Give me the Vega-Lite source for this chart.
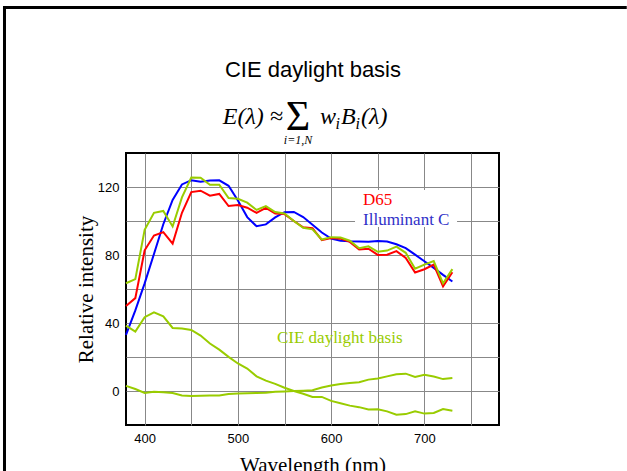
{
  "$schema": "https://vega.github.io/schema/vega-lite/v6.json",
  "width": 373,
  "height": 272,
  "autosize": "none",
  "padding": {"left": 126, "top": 153, "right": 128, "bottom": 46},
  "background": "white",
  "config": {
    "view": {"stroke": "#000", "strokeWidth": 2},
    "axis": {
      "grid": true, "gridColor": "#888", "gridWidth": 1, "gridOpacity": 1,
      "domain": false, "ticks": false, "tickSize": 0,
      "labelFont": "Liberation Sans", "labelFontSize": 13, "labelColor": "#000",
      "labelOverlap": false, "labelFlush": false,
      "titleFont": "Liberation Serif", "titleFontSize": 21, "titleFontWeight": "normal", "titleColor": "#000"
    }
  },
  "layer": [
    {
      "data": {"values": [{}]},
      "mark": {"type": "rect", "fill": "white", "clip": false},
      "encoding": {
        "x": {"datum": 625.6, "type": "quantitative", "scale": {"domain": [380, 780], "nice": false, "zero": false}},
        "x2": {"datum": 735},
        "y": {"datum": 118.2, "type": "quantitative", "scale": {"domain": [-20, 140], "nice": false, "zero": false}},
        "y2": {"datum": 96.5}
      }
    },
    {
      "data": {"values": [
        {"wl": 380, "C": 33.0, "D65": 49.98, "S0": 63.4, "S1": 38.5, "S2": 3.0},
        {"wl": 390, "C": 47.4, "D65": 54.65, "S0": 65.8, "S1": 35.0, "S2": 1.2},
        {"wl": 400, "C": 63.3, "D65": 82.75, "S0": 94.8, "S1": 43.4, "S2": -1.1},
        {"wl": 410, "C": 80.6, "D65": 91.49, "S0": 104.8, "S1": 46.3, "S2": -0.5},
        {"wl": 420, "C": 98.1, "D65": 93.43, "S0": 105.9, "S1": 43.9, "S2": -0.7},
        {"wl": 430, "C": 112.4, "D65": 86.68, "S0": 96.8, "S1": 37.1, "S2": -1.2},
        {"wl": 440, "C": 121.5, "D65": 104.86, "S0": 113.9, "S1": 36.7, "S2": -2.6},
        {"wl": 450, "C": 124.0, "D65": 117.01, "S0": 125.6, "S1": 35.9, "S2": -2.9},
        {"wl": 460, "C": 123.1, "D65": 117.81, "S0": 125.5, "S1": 32.6, "S2": -2.8},
        {"wl": 470, "C": 123.8, "D65": 114.86, "S0": 121.3, "S1": 27.9, "S2": -2.6},
        {"wl": 480, "C": 123.9, "D65": 115.92, "S0": 121.3, "S1": 24.3, "S2": -2.6},
        {"wl": 490, "C": 120.7, "D65": 108.81, "S0": 113.5, "S1": 20.1, "S2": -1.8},
        {"wl": 500, "C": 112.1, "D65": 109.35, "S0": 113.1, "S1": 16.2, "S2": -1.5},
        {"wl": 510, "C": 102.3, "D65": 107.8, "S0": 110.8, "S1": 13.2, "S2": -1.3},
        {"wl": 520, "C": 96.9, "D65": 104.79, "S0": 106.5, "S1": 8.6, "S2": -1.2},
        {"wl": 530, "C": 98.0, "D65": 107.69, "S0": 108.8, "S1": 6.1, "S2": -1.0},
        {"wl": 540, "C": 102.1, "D65": 104.41, "S0": 105.3, "S1": 4.2, "S2": -0.5},
        {"wl": 550, "C": 105.2, "D65": 104.05, "S0": 104.4, "S1": 1.9, "S2": -0.3},
        {"wl": 560, "C": 105.3, "D65": 100.0, "S0": 100.0, "S1": 0.0, "S2": 0.0},
        {"wl": 570, "C": 102.3, "D65": 96.33, "S0": 96.0, "S1": -1.6, "S2": 0.2},
        {"wl": 580, "C": 97.8, "D65": 95.79, "S0": 95.1, "S1": -3.5, "S2": 0.5},
        {"wl": 590, "C": 93.2, "D65": 88.69, "S0": 89.1, "S1": -3.5, "S2": 2.1},
        {"wl": 600, "C": 89.7, "D65": 90.01, "S0": 90.5, "S1": -5.8, "S2": 3.2},
        {"wl": 610, "C": 88.4, "D65": 89.6, "S0": 90.3, "S1": -7.2, "S2": 4.1},
        {"wl": 620, "C": 88.1, "D65": 87.7, "S0": 88.4, "S1": -8.6, "S2": 4.7},
        {"wl": 630, "C": 88.0, "D65": 83.29, "S0": 84.0, "S1": -9.5, "S2": 5.1},
        {"wl": 640, "C": 87.8, "D65": 83.7, "S0": 85.1, "S1": -10.9, "S2": 6.7},
        {"wl": 650, "C": 88.2, "D65": 80.03, "S0": 81.9, "S1": -10.7, "S2": 7.3},
        {"wl": 660, "C": 87.9, "D65": 80.21, "S0": 82.6, "S1": -12.0, "S2": 8.6},
        {"wl": 670, "C": 86.3, "D65": 82.28, "S0": 84.9, "S1": -14.0, "S2": 9.8},
        {"wl": 680, "C": 84.0, "D65": 78.28, "S0": 81.3, "S1": -13.6, "S2": 10.2},
        {"wl": 690, "C": 80.2, "D65": 69.72, "S0": 71.9, "S1": -12.0, "S2": 8.3},
        {"wl": 700, "C": 76.3, "D65": 71.61, "S0": 74.3, "S1": -13.3, "S2": 9.6},
        {"wl": 710, "C": 72.4, "D65": 74.35, "S0": 76.4, "S1": -12.9, "S2": 8.5},
        {"wl": 720, "C": 68.3, "D65": 61.6, "S0": 63.3, "S1": -10.6, "S2": 7.0},
        {"wl": 730, "C": 64.4, "D65": 69.89, "S0": 71.7, "S1": -11.6, "S2": 7.6}
      ]},
      "transform": [{"fold": ["C", "D65", "S0", "S1", "S2"], "as": ["series", "value"]}],
      "mark": {"type": "line", "strokeWidth": 2},
      "encoding": {
        "x": {"field": "wl", "type": "quantitative",
              "axis": {"values": [400, 450, 500, 550, 600, 650, 700, 750], "labelExpr": "datum.value % 100 === 0 ? datum.label : ''", "labelPadding": 7, "titlePadding": 9, "title": "Wavelength (nm)"}},
        "y": {"field": "value", "type": "quantitative",
              "axis": {"values": [0, 20, 40, 60, 80, 100, 120], "labelExpr": "datum.value % 40 === 0 ? datum.label : ''", "labelPadding": 7, "titlePadding": 1, "title": "Relative intensity"}},
        "color": {"field": "series", "type": "nominal", "legend": null,
                  "scale": {"domain": ["C", "D65", "S0", "S1", "S2"], "range": ["#0000ff", "#ff0000", "#99cc00", "#99cc00", "#99cc00"]}},
        "order": {"field": "wl", "type": "quantitative"}
      }
    },
    {
      "data": {"values": [{}]},
      "mark": {"type": "text", "text": "D65", "font": "Liberation Serif", "fontSize": 17, "color": "#ff0000", "align": "left", "baseline": "alphabetic", "clip": false},
      "encoding": {"x": {"datum": 634.2}, "y": {"datum": 109.4}}
    },
    {
      "data": {"values": [{}]},
      "mark": {"type": "text", "text": "Illuminant C", "font": "Liberation Serif", "fontSize": 17, "color": "#3030c8", "align": "left", "baseline": "alphabetic", "clip": false},
      "encoding": {"x": {"datum": 634.2}, "y": {"datum": 97.6}}
    },
    {
      "data": {"values": [{}]},
      "mark": {"type": "text", "text": "CIE daylight basis", "font": "Liberation Serif", "fontSize": 17, "color": "#99cc00", "align": "left", "baseline": "alphabetic", "clip": false},
      "encoding": {"x": {"datum": 541.9}, "y": {"datum": 28.2}}
    },
    {
      "data": {"values": [{}]},
      "mark": {"type": "text", "text": "CIE daylight basis", "font": "Liberation Sans", "fontSize": 22, "color": "#000", "align": "center", "baseline": "alphabetic", "clip": false},
      "encoding": {"x": {"datum": 580.5}, "y": {"datum": 184.7}}
    },
    {
      "data": {"values": [{}]},
      "mark": {"type": "text", "text": "E(λ) ≈", "font": "Liberation Serif", "fontStyle": "italic", "fontSize": 24, "color": "#000", "align": "right", "baseline": "alphabetic", "clip": false},
      "encoding": {"x": {"datum": 548.4}, "y": {"datum": 157.1}}
    },
    {
      "data": {"values": [{}]},
      "mark": {"type": "text", "text": "Σ", "font": "Liberation Serif", "fontSize": 42, "color": "#000", "align": "center", "baseline": "alphabetic", "clip": false},
      "encoding": {"x": {"datum": 564.5}, "y": {"datum": 153.4}}
    },
    {
      "data": {"values": [{}]},
      "mark": {"type": "text", "text": "i=1,N", "font": "Liberation Serif", "fontStyle": "italic", "fontSize": 12, "color": "#000", "align": "center", "baseline": "alphabetic", "clip": false},
      "encoding": {"x": {"datum": 564.5}, "y": {"datum": 145.3}}
    },
    {
      "data": {"values": [{}]},
      "mark": {"type": "text", "text": "w", "font": "Liberation Serif", "fontStyle": "italic", "fontSize": 24, "color": "#000", "align": "left", "baseline": "alphabetic", "clip": false},
      "encoding": {"x": {"datum": 588.0}, "y": {"datum": 157.1}}
    },
    {
      "data": {"values": [{}]},
      "mark": {"type": "text", "text": "i", "font": "Liberation Serif", "fontStyle": "italic", "fontSize": 16, "color": "#000", "align": "left", "baseline": "alphabetic", "clip": false},
      "encoding": {"x": {"datum": 604.7}, "y": {"datum": 154.1}}
    },
    {
      "data": {"values": [{}]},
      "mark": {"type": "text", "text": "B", "font": "Liberation Serif", "fontStyle": "italic", "fontSize": 24, "color": "#000", "align": "left", "baseline": "alphabetic", "clip": false},
      "encoding": {"x": {"datum": 610.6}, "y": {"datum": 157.1}}
    },
    {
      "data": {"values": [{}]},
      "mark": {"type": "text", "text": "i", "font": "Liberation Serif", "fontStyle": "italic", "fontSize": 16, "color": "#000", "align": "left", "baseline": "alphabetic", "clip": false},
      "encoding": {"x": {"datum": 626.1}, "y": {"datum": 154.1}}
    },
    {
      "data": {"values": [{}]},
      "mark": {"type": "text", "text": "(λ)", "font": "Liberation Serif", "fontStyle": "italic", "fontSize": 24, "color": "#000", "align": "left", "baseline": "alphabetic", "clip": false},
      "encoding": {"x": {"datum": 632.0}, "y": {"datum": 157.1}}
    },
    {
      "data": {"values": [{}]},
      "mark": {"type": "rule", "color": "#000", "strokeWidth": 3, "clip": false},
      "encoding": {"x": {"datum": 249.7}, "y": {"datum": 226.5}, "y2": {"datum": -47}}
    },
    {
      "data": {"values": [{}]},
      "mark": {"type": "rule", "color": "#000", "strokeWidth": 3, "clip": false},
      "encoding": {"y": {"datum": 225.6}, "x": {"datum": 248.1}, "x2": {"datum": 917}}
    }
  ]
}
